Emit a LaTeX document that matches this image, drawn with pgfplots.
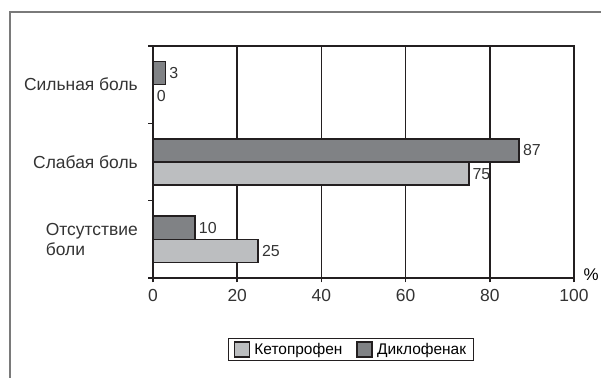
\documentclass[border=0pt]{standalone}
\usepackage{pgfplots}
\pgfplotsset{compat=1.18}
\usepackage{fontspec}
\setmainfont{Liberation Sans}

\definecolor{darkbar}{HTML}{808285}
\definecolor{lightbar}{HTML}{BCBEC0}
\definecolor{edge}{HTML}{231F20}
\definecolor{frame}{HTML}{7A7A7A}

\begin{document}
\begin{tikzpicture}
\useasboundingbox (0,0) rectangle (601bp,378bp);
% outer frame (left and top edges)
\draw[frame, line width=1.6bp] (10bp,0) -- (10bp,366bp) -- (601bp,366bp);

\begin{axis}[
  at={(153bp,100bp)}, anchor=south west,
  scale only axis, width=421bp, height=232bp,
  xbar, bar width=0.3,
  xmin=0, xmax=100, ymin=-0.5, ymax=2.5,
  xtick={0,20,...,100},
  ytick={-0.5,0.5,1.5,2.5}, yticklabels={},
  xtick pos=lower, ytick pos=left,
  extra y ticks={0,1,2},
  extra y tick labels={{Отсутствие\\боли},{Слабая боль},{Сильная боль}},
  extra y tick style={major tick length=0pt,
    yticklabel style={align=left, inner sep=0pt, xshift=-15bp}},
  tick align=outside, major tick length=4.5bp,
  tick style={edge, line width=1.6bp},
  axis line style={edge, line width=1.6bp},
  xmajorgrids, grid style={edge, line width=1.6bp},
  /pgf/number format/assume math mode=true,
  ticklabel style={font=\fontsize{17.5}{20}\selectfont, text=black!80},
  xticklabel style={yshift=-3bp},
  xlabel={\%},
  xlabel style={at={(axis description cs:1,0)}, anchor=west,
    xshift=6bp, yshift=3bp, font=\fontsize{17}{20}\selectfont},
  nodes near coords,
  nodes near coords align={horizontal},
  every node near coord/.append style={font=\fontsize{16}{19}\selectfont,
    text=black!80, inner xsep=3bp},
  legend style={at={(axis description cs:0.47,-0.308)}, anchor=center,
    legend columns=2, draw=edge, line width=0.8bp,
    font=\fontsize{15.5}{18}\selectfont, inner xsep=5bp, inner ysep=3bp,
    /tikz/every odd column/.append style={column sep=2bp},
    /tikz/every even column/.append style={column sep=12bp}},
  legend image code/.code={%
    \draw[#1, line width=1.8bp] (0bp,-7.5bp) rectangle (15bp,7.5bp);},
]
\addplot[fill=lightbar, draw=edge, line width=1.6bp, bar shift=-0.15]
  coordinates {(25,0) (75,1) (0,2)};
\addplot[fill=darkbar, draw=edge, line width=1.6bp, bar shift=0.15]
  coordinates {(10,0) (87,1) (3,2)};
\legend{Кетопрофен, Диклофенак}
\end{axis}
\end{tikzpicture}
\end{document}
